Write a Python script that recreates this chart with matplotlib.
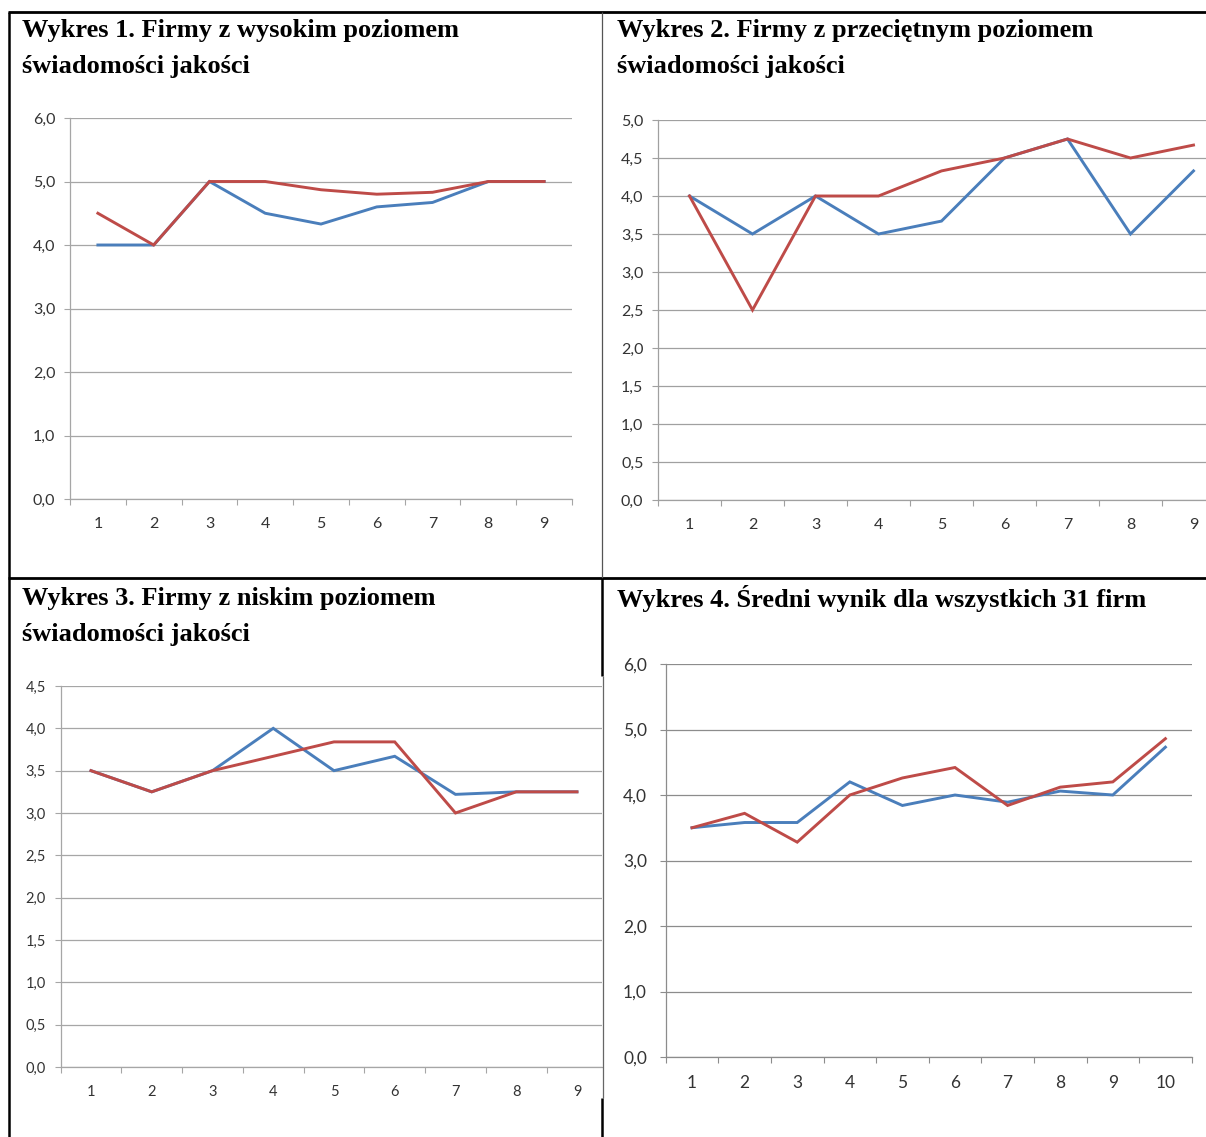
import matplotlib
matplotlib.use("Agg")
import matplotlib.pyplot as plt
from matplotlib.lines import Line2D

W, H = 1206, 1137

# Wykres 1 - firmy z wysokim poziomem
kat1 = [1, 2, 3, 4, 5, 6, 7, 8, 9]
niebieska1 = [4.0, 4.0, 5.0, 4.5, 4.33, 4.6, 4.67, 5.0, 5.0]
czerwona1 = [4.5, 4.0, 5.0, 5.0, 4.87, 4.8, 4.83, 5.0, 5.0]

# Wykres 2 - przecietny poziom
kat2 = [1, 2, 3, 4, 5, 6, 7, 8, 9]
niebieska2 = [4.0, 3.5, 4.0, 3.5, 3.67, 4.5, 4.75, 3.5, 4.33]
czerwona2 = [4.0, 2.5, 4.0, 4.0, 4.33, 4.5, 4.75, 4.5, 4.67]

# Wykres 3 - niski poziom
kat3 = [1, 2, 3, 4, 5, 6, 7, 8, 9]
niebieska3 = [3.5, 3.25, 3.5, 4.0, 3.5, 3.67, 3.22, 3.25, 3.25]
czerwona3 = [3.5, 3.25, 3.5, 3.67, 3.84, 3.84, 3.0, 3.25, 3.25]

# Wykres 4 - srednia dla 31 firm
kat4 = [1, 2, 3, 4, 5, 6, 7, 8, 9, 10]
niebieska4 = [3.5, 3.58, 3.58, 4.2, 3.84, 4.0, 3.89, 4.06, 4.0, 4.73]
czerwona4 = [3.5, 3.72, 3.28, 4.0, 4.26, 4.42, 3.84, 4.12, 4.2, 4.86]

tytuly = [
    ["Wykres 1. Firmy z wysokim poziomem", "świadomości jakości"],
    ["Wykres 2. Firmy z przeciętnym poziomem", "świadomości jakości"],
    ["Wykres 3. Firmy z niskim poziomem", "świadomości jakości"],
    ["Wykres 4. Średni wynik dla wszystkich 31 firm"],
]

NIEBIESKI = "#4a7ebb"
CZERWONY = "#be4b48"

fig = plt.figure(figsize=(W / 100, H / 100), dpi=100)
fig.patch.set_facecolor("white")


def osie(left, top, right, bottom):
    return fig.add_axes([left / W, 1 - bottom / H, (right - left) / W, (bottom - top) / H])


def wykres(ax, kat, nieb, czer, ymax, krok, xmax, fs, pad_y, grid_c):
    ax.plot(kat, nieb, color=NIEBIESKI, lw=2.1, solid_joinstyle="miter")
    ax.plot(kat, czer, color=CZERWONY, lw=2.1, solid_joinstyle="miter")
    ax.set_xlim(0.5, xmax)
    ax.set_ylim(0, ymax)
    yt = [i * krok for i in range(int(round(ymax / krok)) + 1)]
    ax.set_yticks(yt)
    ax.set_yticklabels([f"{v:.1f}".replace(".", ",") for v in yt])
    # kreski na granicach kategorii, etykiety na srodkach
    granice = [k - 0.5 for k in kat] + [kat[-1] + 0.5]
    ax.set_xticks([g for g in granice if g <= xmax])
    ax.set_xticklabels([])
    ax.set_xticks(kat, minor=True)
    ax.set_xticklabels([str(k) for k in kat], minor=True)
    ax.tick_params(axis="x", which="minor", length=0, pad=13, labelsize=fs, labelcolor="#333333")
    ax.tick_params(axis="x", which="major", length=4.5, width=0.8, color=grid_c, direction="out")
    ax.tick_params(axis="y", length=4.5, width=0.8, color=grid_c, pad=pad_y, labelsize=fs,
                   labelcolor="#333333")
    for lab in ax.get_yticklabels() + ax.get_xticklabels(minor=True):
        lab.set_fontfamily("Lato")
    ax.grid(axis="y", color=grid_c, lw=0.9)
    ax.set_axisbelow(True)
    for s in ("top", "right"):
        ax.spines[s].set_visible(False)
    for s in ("left", "bottom"):
        ax.spines[s].set_color(grid_c)
        ax.spines[s].set_linewidth(0.9)
    ax.set_facecolor("none")


ax1 = osie(70, 118, 572, 499)
wykres(ax1, kat1, niebieska1, czerwona1, 6.0, 1.0, 9.5, 11.5, 6, "#a6a6a6")

ax2 = osie(658, 120, 1206, 500)
wykres(ax2, kat2, niebieska2, czerwona2, 5.0, 0.5, 0.5 + (1206 - 658) / 63.0, 11.5, 6, "#a0a0a0")

ax3 = osie(60.6, 686, 602, 1067)
wykres(ax3, kat3, niebieska3, czerwona3, 4.5, 0.5, 0.5 + (602 - 60.6) / 60.75, 10.5, 6, "#a6a6a6")

ax4 = osie(665.7, 664, 1191.7, 1057)
wykres(ax4, kat4, niebieska4, czerwona4, 6.0, 1.0, 10.5, 12.5, 9, "#8c8c8c")

# tytuly paneli, kazda linia osobno
pozycje = [(22, 30), (617, 30), (22, 598), (617, 598)]
for (x, y), linie in zip(pozycje, tytuly):
    for i, t in enumerate(linie):
        fig.text(x / W, 1 - (y + i * 36) / H, t, ha="left", va="center", fontsize=19,
                 fontfamily="Liberation Serif", fontweight="bold", color="black")


# ramki tabeli
def linia(x0, y0, x1, y1, lw, c="black"):
    fig.add_artist(Line2D([x0 / W, x1 / W], [1 - y0 / H, 1 - y1 / H], lw=lw, color=c,
                          transform=fig.transFigure, solid_capstyle="butt"))


linia(8, 12, W, 12, 2.0)
linia(8, 578, W, 578, 2.0)
linia(9, 12, 9, H, 1.8)
linia(602, 12, 602, 578, 0.9, "#555555")
linia(602, 578, 602, 676, 1.8)
linia(603, 676, 603, 1098, 0.9, "#666666")
linia(602, 1098, 602, H, 1.8)

fig.savefig("out.png", dpi=100, facecolor="white")
